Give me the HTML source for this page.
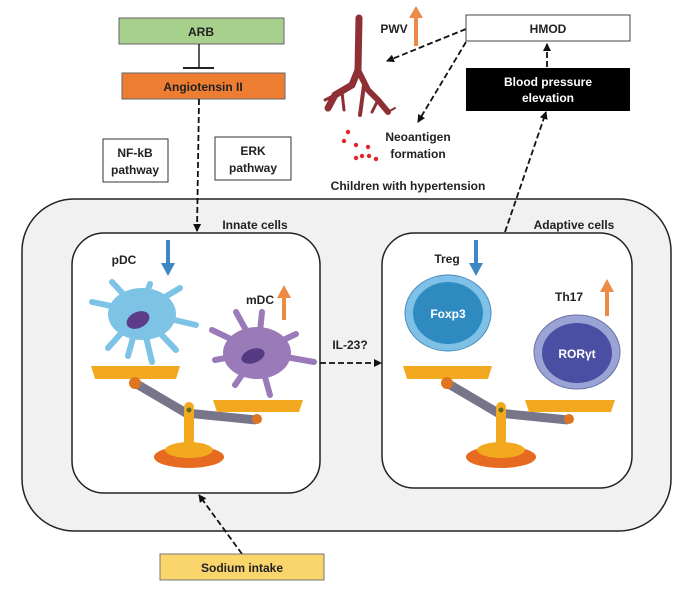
<!DOCTYPE html>
<html><head><meta charset="utf-8"><style>
html,body{margin:0;padding:0;background:#fff}
svg{display:block;font-family:"Liberation Sans",sans-serif;font-weight:bold}
</style></head><body>
<svg width="681" height="589" viewBox="0 0 681 589">
<defs>
<marker id="ah" markerWidth="8" markerHeight="8" refX="7" refY="4" orient="auto" markerUnits="userSpaceOnUse"><path d="M0,0 L8,4 L0,8 Z" fill="#111"/></marker>
</defs>
<rect x="22" y="199" width="649" height="332" rx="52" fill="#f1f1f1" stroke="#222" stroke-width="1.5"/>
<rect x="72" y="233" width="248" height="260" rx="32" fill="#fff" stroke="#222" stroke-width="1.5"/>
<rect x="382" y="233" width="250" height="255" rx="32" fill="#fff" stroke="#222" stroke-width="1.5"/>
<text x="255" y="229" font-size="12" text-anchor="middle" fill="#222">Innate cells</text>
<text x="574" y="229" font-size="12" text-anchor="middle" fill="#222">Adaptive cells</text>
<text x="408" y="190" font-size="12" text-anchor="middle" fill="#222">Children with hypertension</text>

<rect x="119" y="18" width="165" height="26" fill="#a8d08d" stroke="#666"/>
<text x="201" y="36" font-size="12" text-anchor="middle" fill="#222">ARB</text>
<line x1="199" y1="44" x2="199" y2="68" stroke="#222" stroke-width="1.5"/>
<line x1="183" y1="68" x2="214" y2="68" stroke="#222" stroke-width="2"/>
<rect x="122" y="73" width="163" height="26" fill="#ed7d31" stroke="#666"/>
<text x="203" y="91" font-size="12" text-anchor="middle" fill="#222">Angiotensin II</text>
<g stroke="#111" stroke-width="1.8" stroke-dasharray="6,3">
<line x1="199" y1="99" x2="197" y2="231" marker-end="url(#ah)"/>
<line x1="466" y1="29" x2="387" y2="61" marker-end="url(#ah)"/>
<line x1="466" y1="42" x2="418" y2="122" marker-end="url(#ah)"/>
<line x1="547" y1="67" x2="547" y2="44" marker-end="url(#ah)"/>
<line x1="505" y1="232" x2="546" y2="112" marker-end="url(#ah)"/>
<line x1="320" y1="363" x2="381" y2="363" marker-end="url(#ah)"/>
<line x1="242" y1="554" x2="199" y2="495" marker-end="url(#ah)"/>
</g>
<rect x="103" y="139" width="65" height="43" fill="#fff" stroke="#333"/>
<text x="135" y="157" font-size="12" text-anchor="middle" fill="#222">NF-kB</text>
<text x="135" y="174" font-size="12" text-anchor="middle" fill="#222">pathway</text>
<rect x="215" y="137" width="76" height="43" fill="#fff" stroke="#333"/>
<text x="253" y="155" font-size="12" text-anchor="middle" fill="#222">ERK</text>
<text x="253" y="172" font-size="12" text-anchor="middle" fill="#222">pathway</text>

<g stroke="#8e2f36" fill="none" stroke-linecap="round">
<path d="M359,18 L358,70 L352,85 L335,95 L328,108" stroke-width="7"/>
<path d="M358,70 L368,90 L378,100 L388,112" stroke-width="6"/>
<path d="M364,85 L362,100 L360,115" stroke-width="4"/>
<path d="M378,100 L372,112" stroke-width="3"/>
<path d="M335,95 L325,100" stroke-width="3"/>
<path d="M342,92 L344,110" stroke-width="3"/>
<path d="M388,112 L395,108" stroke-width="2"/>
</g>
<text x="394" y="33" font-size="12" text-anchor="middle" fill="#222">PWV</text>
<line x1="416" y1="46" x2="416" y2="16" stroke="#ed8a45" stroke-width="4"/>
<path d="M409,18 L416,6 L423,18 Z" fill="#ed8a45"/>

<rect x="466" y="15" width="164" height="26" fill="#fff" stroke="#444"/>
<text x="548" y="33" font-size="12" text-anchor="middle" fill="#222">HMOD</text>
<rect x="466" y="68" width="164" height="43" fill="#000"/>
<text x="548" y="86" font-size="12" text-anchor="middle" fill="#fff">Blood pressure</text>
<text x="548" y="102" font-size="12" text-anchor="middle" fill="#fff">elevation</text>

<g fill="#e0262b">
<circle cx="348" cy="132" r="2.2"/><circle cx="344" cy="141" r="2.2"/><circle cx="356" cy="145" r="2.2"/>
<circle cx="368" cy="147" r="2.2"/><circle cx="362" cy="156" r="2.2"/><circle cx="369" cy="156" r="2.2"/><circle cx="376" cy="159" r="2.2"/><circle cx="356" cy="158" r="2.2"/>
</g>
<text x="418" y="141" font-size="12" text-anchor="middle" fill="#222">Neoantigen</text>
<text x="418" y="158" font-size="12" text-anchor="middle" fill="#222">formation</text>

<text x="124" y="264" font-size="12" text-anchor="middle" fill="#222">pDC</text>
<line x1="168" y1="240" x2="168" y2="265" stroke="#3f87c2" stroke-width="4"/>
<path d="M161,263 L168,276 L175,263 Z" fill="#3f87c2"/>
<g stroke="#7dc3e6" stroke-width="6" stroke-linecap="round" fill="none">
<path d="M140,312 L92,302"/><path d="M140,312 L112,282"/><path d="M140,312 L150,284"/><path d="M140,312 L180,288"/>
<path d="M140,312 L196,325"/><path d="M140,312 L152,362"/><path d="M140,312 L108,348"/><path d="M140,312 L128,356"/><path d="M140,312 L176,350"/>
</g>
<ellipse cx="142" cy="314" rx="34" ry="26" fill="#7dc3e6"/>
<ellipse cx="138" cy="320" rx="12" ry="8" fill="#5b3d8a" transform="rotate(-25 138 320)"/>
<text x="260" y="304" font-size="12" text-anchor="middle" fill="#222">mDC</text>
<line x1="284" y1="320" x2="284" y2="296" stroke="#ed8a45" stroke-width="4"/>
<path d="M277,298 L284,285 L291,298 Z" fill="#ed8a45"/>
<g stroke="#9a7ab8" stroke-width="6" stroke-linecap="round" fill="none">
<path d="M258,352 L212,330"/><path d="M258,352 L236,312"/><path d="M258,352 L262,312"/><path d="M258,352 L296,334"/>
<path d="M258,352 L314,362"/><path d="M258,352 L270,395"/><path d="M258,352 L235,385"/><path d="M258,352 L215,360"/>
</g>
<ellipse cx="257" cy="353" rx="34" ry="26" fill="#9a7ab8"/>
<ellipse cx="253" cy="356" rx="12" ry="7" fill="#533a82" transform="rotate(-20 253 356)"/>
<text x="350" y="349" font-size="12" text-anchor="middle" fill="#222">IL-23?</text>

<g id="sc">
<path d="M135,383 L186,413 L256,420" stroke="#77758a" stroke-width="9" fill="none" stroke-linejoin="round"/>
<path d="M91,366 L180,366 L176,379 L95,379 Z" fill="#f2a91f"/>
<circle cx="135" cy="383" r="6" fill="#e0751f"/>
<path d="M213,400 L303,400 L299,412 L217,412 Z" fill="#f2a91f"/>
<circle cx="257" cy="419" r="5" fill="#e0751f"/>
<ellipse cx="189" cy="457" rx="35" ry="11" fill="#e66a1f"/>
<ellipse cx="189" cy="450" rx="24" ry="8" fill="#f2a91f"/>
<rect x="184" y="402" width="10" height="48" rx="5" fill="#f2a91f"/>
<circle cx="189" cy="410" r="2.5" fill="#5a6b2a"/>
</g>
<use href="#sc" transform="translate(312,0)"/>

<text x="447" y="263" font-size="12" text-anchor="middle" fill="#222">Treg</text>
<line x1="476" y1="240" x2="476" y2="265" stroke="#3f87c2" stroke-width="4"/>
<path d="M469,263 L476,276 L483,263 Z" fill="#3f87c2"/>
<ellipse cx="448" cy="313" rx="43" ry="38" fill="#7fc0e6" stroke="#4a8cc0"/>
<ellipse cx="448" cy="313" rx="35" ry="31" fill="#2f8ac0"/>
<text x="448" y="318" font-size="12" text-anchor="middle" fill="#fff">Foxp3</text>
<text x="569" y="301" font-size="12" text-anchor="middle" fill="#222">Th17</text>
<line x1="607" y1="316" x2="607" y2="290" stroke="#ed8a45" stroke-width="4"/>
<path d="M600,292 L607,279 L614,292 Z" fill="#ed8a45"/>
<ellipse cx="577" cy="352" rx="43" ry="37" fill="#9aa3d4" stroke="#6a73aa"/>
<ellipse cx="577" cy="353" rx="35" ry="30" fill="#4b4fa3"/>
<text x="577" y="358" font-size="12" text-anchor="middle" fill="#fff">RORγt</text>

<rect x="160" y="554" width="164" height="26" fill="#f9d56b" stroke="#777"/>
<text x="242" y="572" font-size="12" text-anchor="middle" fill="#222">Sodium intake</text>
</svg>
</body></html>
